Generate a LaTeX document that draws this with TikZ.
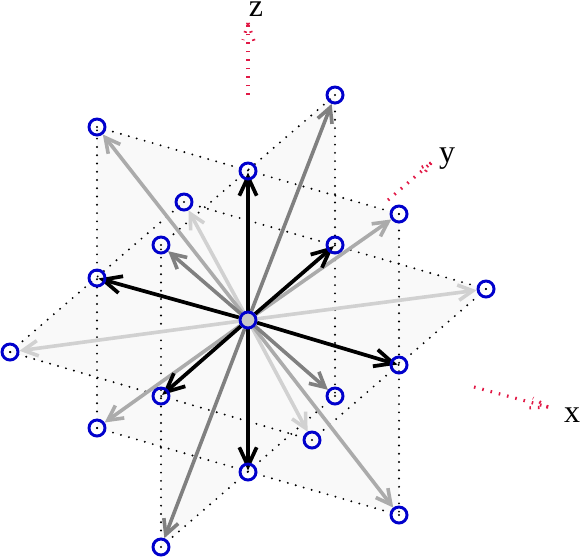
\documentclass[tikz,border=0pt]{standalone}
\usepackage{fontspec}
\setmainfont{Liberation Serif}
\usetikzlibrary{arrows.meta}
\pgfdeclarelayer{bg}
\pgfdeclarelayer{fg}
\pgfsetlayers{bg,main,fg}
\definecolor{nodeblue}{RGB}{0,0,204}
\definecolor{axred}{RGB}{225,25,70}
\tikzset{
  x=0.75pt,y=-0.75pt,
  pt/.style={circle,draw=nodeblue,line width=2.2pt,minimum size=12pt,inner sep=0pt},
  plane/.style={fill=black!2.5,draw=none},
  edge/.style={draw=black,line width=1.6pt,line cap=round,dash pattern=on 0pt off 6.2pt},
  vec/.style={line width=2.7pt,-{Straight Barb[length=11pt,width=11.5pt]}},
  vecA/.style={line width=2.8pt,draw=black,shorten >=1.2pt,-{Straight Barb[length=14pt,width=13pt]}},
  vecB/.style={vec,draw=black!50},
  vecC/.style={vec,draw=black!33},
  vecD/.style={vec,draw=black!18},
  axdot/.style={draw=axred,line width=2.4pt,dash pattern=on 1.2pt off 5.2pt},
  lab/.style={font=\fontsize{24pt}{26pt}\selectfont,inner sep=0pt}
}
\begin{document}
\begin{tikzpicture}
\useasboundingbox (0,0) rectangle (581,558);
\begin{pgfonlayer}{fg}
\node[pt,fill=black!22] (c) at (248,320) {};
\node[pt] (a1) at (335,95) {};
\node[pt] (a2) at (161,547) {};
\node[pt] (b1) at (97,127) {};
\node[pt] (b2) at (399,515) {};
\node[pt] (d1) at (184,202) {};
\node[pt] (d2) at (312,440) {};
\node[pt] (e1) at (161,245) {};
\node[pt] (e2) at (335,396) {};
\node[pt] (f1) at (248,171) {};
\node[pt] (f2) at (248,472) {};
\node[pt] (g1) at (335,245) {};
\node[pt] (g2) at (161,396) {};
\node[pt] (h1) at (399,214) {};
\node[pt] (h2) at (97,428) {};
\node[pt] (i1) at (486,289) {};
\node[pt] (i2) at (10,352) {};
\node[pt] (j1) at (97,278) {};
\node[pt] (j2) at (399,365) {};
\end{pgfonlayer}
\begin{pgfonlayer}{bg}
\path[plane] (d1.center) -- (i1.center) -- (d2.center) -- (i2.center) -- cycle;
\path[plane] (h1.center) -- (b2.center) -- (h2.center) -- (b1.center) -- cycle;
\path[plane] (a1.center) -- (e2.center) -- (a2.center) -- (e1.center) -- cycle;
\draw[edge] (d1.center) -- (i1.center);
\draw[edge] (i1.center) -- (d2.center);
\draw[edge] (d2.center) -- (i2.center);
\draw[edge] (i2.center) -- (d1.center);
\draw[edge] (h1.center) -- (b2.center);
\draw[edge] (b2.center) -- (h2.center);
\draw[edge] (h2.center) -- (b1.center);
\draw[edge] (b1.center) -- (h1.center);
\draw[edge] (a1.center) -- (e2.center);
\draw[edge] (e2.center) -- (a2.center);
\draw[edge] (a2.center) -- (e1.center);
\draw[edge] (e1.center) -- (a1.center);
\end{pgfonlayer}
\draw[vecD] (c) -- (d1);
\draw[vecD] (c) -- (d2);
\draw[vecD] (c) -- (i1);
\draw[vecD] (c) -- (i2);
\draw[vecC] (c) -- (b1);
\draw[vecC] (c) -- (b2);
\draw[vecC] (c) -- (h1);
\draw[vecC] (c) -- (h2);
\draw[vecB] (c) -- (a1);
\draw[vecB] (c) -- (a2);
\draw[vecB] (c) -- (e1);
\draw[vecB] (c) -- (e2);
\draw[vecA] (c) -- (f1.center);
\draw[vecA] (c) -- (f2.center);
\draw[vecA] (c) -- (g1.center);
\draw[vecA] (c) -- (g2.center);
\draw[vecA] (c) -- (j1.center);
\draw[vecA] (c) -- (j2.center);
% axes
\coordinate (zs) at (248,95);
\coordinate (zt) at (248,23);
\coordinate (zl) at (243,40);
\coordinate (zr) at (254,41);
\draw[axdot] (zs) -- (zt);
\draw[axdot] (zt) -- (zl);
\draw[axdot] (zt) -- (zr);
\coordinate (xs) at (474,387);
\coordinate (xt) at (548,407);
\coordinate (xl) at (533,398);
\coordinate (xr) at (527,408);
\draw[axdot] (xs) -- (xt);
\draw[axdot] (xt) -- (xl);
\draw[axdot] (xt) -- (xr);
\coordinate (ys) at (388,200);
\coordinate (yt) at (431,163);
\coordinate (yl) at (416,170);
\coordinate (yr) at (422,177);
\draw[axdot] (ys) -- (yt);
\draw[axdot] (yt) -- (yl);
\draw[axdot] (yt) -- (yr);
\node[lab] (zlab) at (256,9) {z};
\node[lab] (ylab) at (447,159) {y};
\node[lab] (xlab) at (572,415) {x};
\end{tikzpicture}
\end{document}
